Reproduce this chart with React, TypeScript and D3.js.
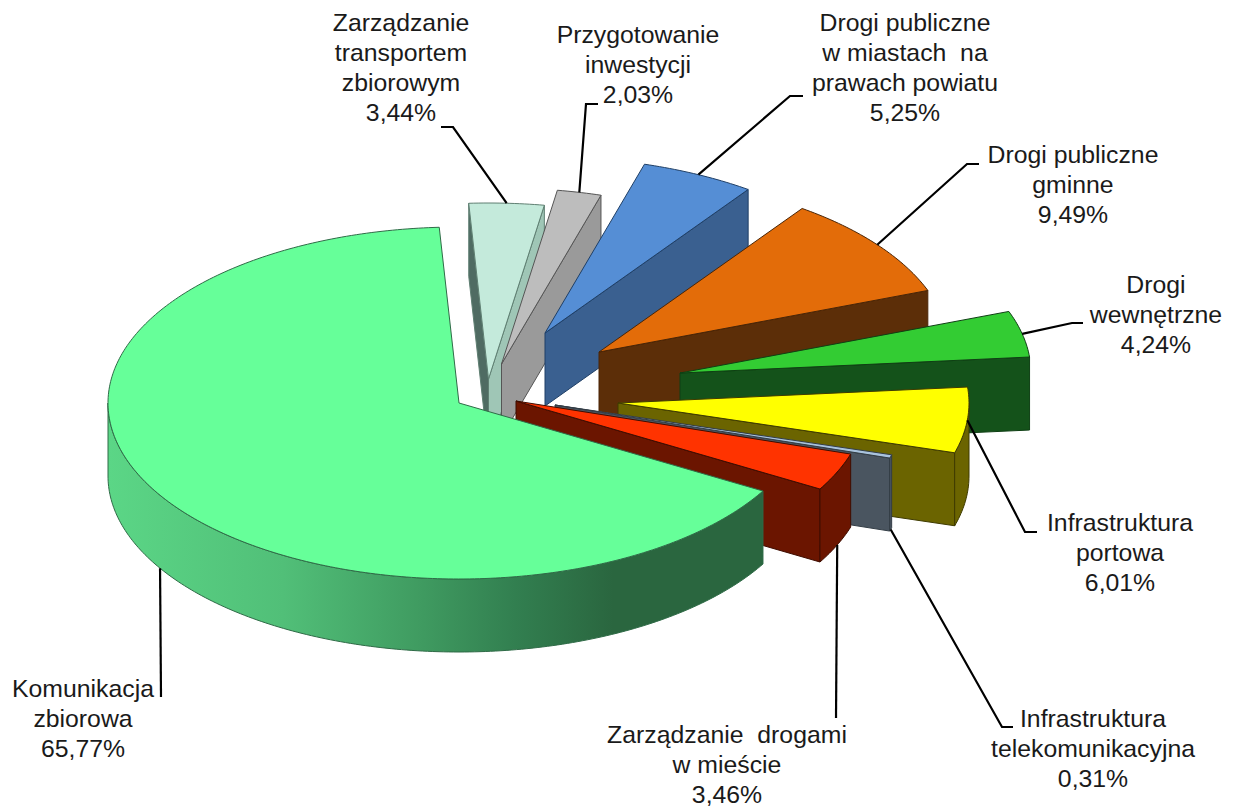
import React from 'react';
import * as d3 from 'd3';

const names = [
  ['Komunikacja', 'zbiorowa'],
  ['Zarządzanie', 'transportem', 'zbiorowym'],
  ['Przygotowanie', 'inwestycji'],
  ['Drogi publiczne', 'w miastach  na', 'prawach powiatu'],
  ['Drogi publiczne', 'gminne'],
  ['Drogi', 'wewnętrzne'],
  ['Infrastruktura', 'portowa'],
  ['Infrastruktura', 'telekomunikacyjna'],
  ['Zarządzanie  drogami', 'w mieście'],
];
const values = [65.77, 3.44, 2.03, 5.25, 9.49, 4.24, 6.01, 0.31, 3.46];
const valueLabels = ['65,77%', '3,44%', '2,03%', '5,25%', '9,49%', '4,24%', '6,01%', '0,31%', '3,46%'];
const topColors = ['#66ff99', '#c4eadb', '#bdbdbd', '#558ed5', '#e36c09', '#33cc33', '#ffff00', '#a9c3dd', '#ff3300'];
const wallColors = ['#2a663f', '#9fc6b6', '#9a9a9a', '#3a6090', '#5c2e08', '#14521a', '#6b6400', '#4a5560', '#6b1500'];
const startWallColors = ['#2a663f', '#4f6b62', '#9a9a9a', '#3a6090', '#5c2e08', '#14521a', '#6b6400', '#4a5560', '#6b1500'];
const strokeColors = ['#2f6b47', '#5f7f72', '#555555', '#1f3f66', '#4a2506', '#0f3f14', '#3f3b00', '#333d46', '#3f0d00'];
// where each slice's apex sits after being pulled out of the pie
const apexX = [459, 488.5, 501.5, 545, 599, 680, 618, 555, 516];
const apexY = [403, 379, 364, 333, 352, 373, 403, 405, 401];
const drawOrder = [1, 2, 3, 4, 5, 6, 7, 8, 0];
// label layout: centre x, first baseline
const labelX = [83, 401, 638, 905, 1073, 1156, 1120, 1093, 727];
const labelY = [697, 31, 43, 31, 163, 293, 531, 727, 743];
// leader layout: elbow and end; anchored on the wall if leaderOnWall
const leaderOnWall = [true, false, false, false, false, false, false, true, true];
const elbowX = [161, 453, 586, 790, 967, 1072, 1025, 1002, 836];
const elbowY = [697, 127, 104, 96, 164, 323, 532, 727, 718];
const endX = [161, 441, 598, 803, 979, 1083, 1037, 1013, 836];
const endY = [697, 127, 104, 96, 164, 323, 532, 727, 718];
const gradientStops: [number, string][] = [
  [0, '#5bd686'],
  [0.25, '#51bf78'],
  [0.45, '#3f9a60'],
  [0.58, '#327f50'],
  [0.72, '#2a663f'],
  [1, '#2a663f'],
];

const W = 1237;
const H = 807;
const RX = 351;
const RY = 176;
const DEPTH = 73;
const FONT = '"Liberation Sans", Arial, sans-serif';
const TAU = 2 * Math.PI;

const pie = d3
  .pie<number>()
  .sort(null)
  .startAngle((120 * Math.PI) / 180)
  .endAngle((480 * Math.PI) / 180);
const arcs = pie(values);

const rim = (i: number, t: number, dz = 0): [number, number] => [
  apexX[i] + RX * Math.sin(t),
  apexY[i] - RY * Math.cos(t) + dz,
];
const line = d3.line();
const samples = (a: number, b: number) => {
  const n = Math.max(2, Math.ceil(Math.abs(b - a) / 0.015));
  return d3.range(n + 1).map((k) => a + ((b - a) * k) / n);
};

export default function App() {
  const slices = drawOrder.map((i) => {
    const { startAngle: s, endAngle: e } = arcs[i];
    const apex: [number, number] = [apexX[i], apexY[i]];
    const apexLow: [number, number] = [apexX[i], apexY[i] + DEPTH];
    const top = line([apex, ...samples(s, e).map((t) => rim(i, t)), apex]) + 'Z';
    const parts: { d: string; fill: string }[] = [];
    if (Math.sin(e) > 0)
      parts.push({ d: line([apex, rim(i, e), rim(i, e, DEPTH), apexLow]) + 'Z', fill: wallColors[i] });
    if (Math.sin(s) < 0)
      parts.push({ d: line([apex, rim(i, s), rim(i, s, DEPTH), apexLow]) + 'Z', fill: startWallColors[i] });
    // curved outer wall: only the part of the rim that faces the viewer
    [0, TAU].forEach((turn) => {
      const a = Math.max(s, Math.PI / 2 + turn);
      const b = Math.min(e, (3 * Math.PI) / 2 + turn);
      if (b > a) {
        const ts = samples(a, b);
        const upper = ts.map((t) => rim(i, t));
        const lower = ts.map((t) => rim(i, t, DEPTH)).reverse();
        parts.push({ d: line([...upper, ...lower]) + 'Z', fill: i === 0 ? 'url(#mainWall)' : wallColors[i] });
      }
    });
    return { i, top, parts };
  });

  const leaders = arcs.map((arc, i) => {
    const mid = (arc.startAngle + arc.endAngle) / 2;
    const anchor = i === 0 ? rim(i, (238.4 * Math.PI) / 180, DEPTH) : rim(i, mid, leaderOnWall[i] ? DEPTH : 0);
    return line([anchor, [elbowX[i], elbowY[i]], [endX[i], endY[i]]]) as string;
  });

  return (
    <svg
      width={W}
      height={H}
      viewBox={`0 0 ${W} ${H}`}
      style={{ position: 'absolute', left: 0, top: 0, background: '#fff', display: 'block' }}
    >
      <defs>
        <linearGradient id="mainWall" gradientUnits="userSpaceOnUse" x1={108} x2={810} y1={0} y2={0}>
          {gradientStops.map(([o, c]) => (
            <stop key={o} offset={o} stopColor={c} />
          ))}
        </linearGradient>
      </defs>
      {slices.map(({ i, top, parts }) => (
        <g key={i} stroke={strokeColors[i]} strokeWidth={1} strokeLinejoin="round">
          {parts.map((p, k) => (
            <path key={k} d={p.d} fill={p.fill} />
          ))}
          <path d={top} fill={topColors[i]} />
        </g>
      ))}
      {leaders.map((d, i) => (
        <path key={i} d={d} fill="none" stroke="#000" strokeWidth={2.2} strokeLinejoin="miter" />
      ))}
      {names.map((lines, i) => (
        <text
          key={i}
          x={labelX[i]}
          y={labelY[i]}
          textAnchor="middle"
          fontFamily={FONT}
          fontSize={24.8}
          fill="#1a1a1a"
          style={{ whiteSpace: 'pre' }}
        >
          {[...lines, valueLabels[i]].map((t, k) => (
            <tspan key={k} x={labelX[i]} dy={k === 0 ? 0 : 30}>
              {t}
            </tspan>
          ))}
        </text>
      ))}
    </svg>
  );
}
